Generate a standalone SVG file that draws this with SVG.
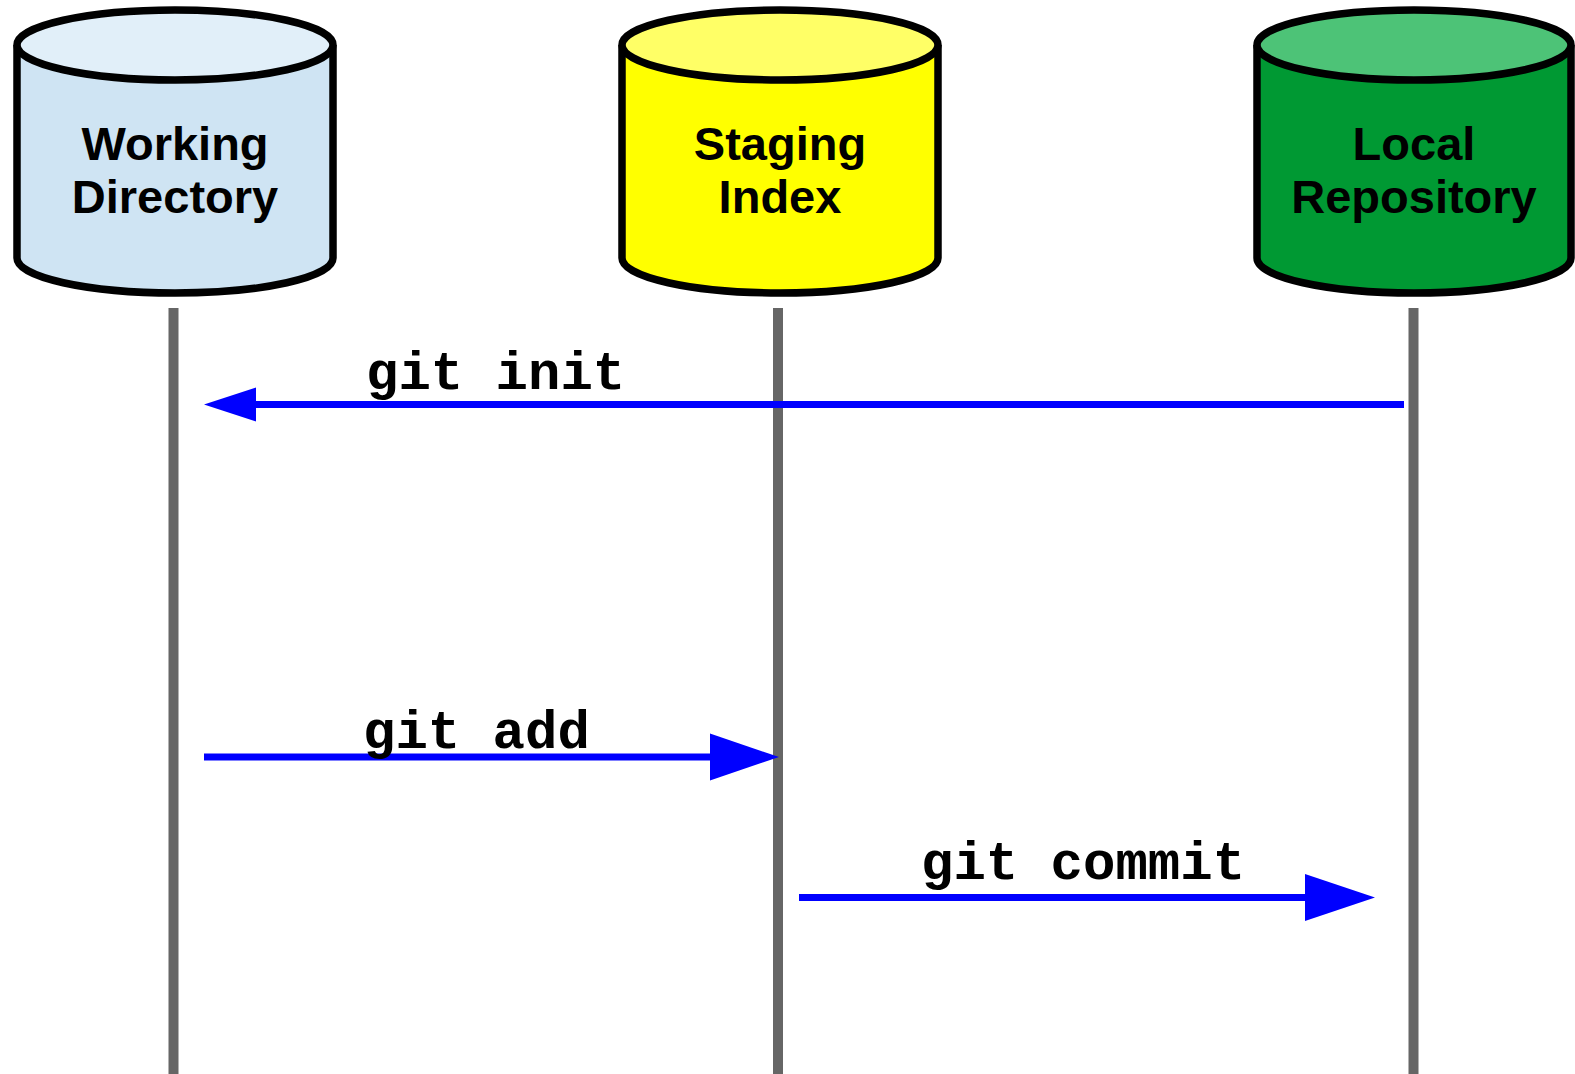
<svg xmlns="http://www.w3.org/2000/svg" width="1575" height="1074" viewBox="0 0 1575 1074">
<style>
.cyl{stroke:#000;stroke-width:7.5}
.lbl{font-family:"Liberation Sans",Arial,sans-serif;font-weight:bold;font-size:47px;fill:#000;text-anchor:middle}
.cmd{font-family:"Liberation Mono","Courier New",monospace;font-weight:bold;font-size:54px;fill:#000}
.life{stroke:#666;stroke-width:10;fill:none}
.msg{stroke:#00f;stroke-width:7;fill:none}
.head{fill:#00f;stroke:none}
</style>
<rect width="1575" height="1074" fill="#fff"/>
<g id="lifelines">
<line class="life" x1="173.5" y1="308" x2="173.5" y2="1074"/>
<line class="life" x1="778" y1="308" x2="778" y2="1074"/>
<line class="life" x1="1413.5" y1="308" x2="1413.5" y2="1074"/>
</g>
<g id="working-directory">
<path class="cyl" fill="#cfe4f3" d="M17,45 V258 A158,35 0 0 0 333,258 V45"/>
<ellipse class="cyl" fill="#e1eff9" cx="175" cy="45" rx="158" ry="35"/>
<text class="lbl" x="175" y="160">Working</text>
<text class="lbl" x="175" y="213">Directory</text>
</g>
<g id="staging-index">
<path class="cyl" fill="#ffff00" d="M622,45 V258 A158,35 0 0 0 938,258 V45"/>
<ellipse class="cyl" fill="#ffff66" cx="780" cy="45" rx="158" ry="35"/>
<text class="lbl" x="780" y="160">Staging</text>
<text class="lbl" x="780" y="213">Index</text>
</g>
<g id="local-repository">
<path class="cyl" fill="#009933" d="M1257,45 V258 A157,35 0 0 0 1571,258 V45"/>
<ellipse class="cyl" fill="#4dc377" cx="1414" cy="45" rx="157" ry="35"/>
<text class="lbl" x="1414" y="160">Local</text>
<text class="lbl" x="1414" y="213">Repository</text>
</g>
<g id="connectors">
<line class="msg" x1="1404" y1="404.5" x2="254" y2="404.5"/>
<polygon class="head" points="204,404.5 256,387.5 256,421.5"/>
<line class="msg" x1="204" y1="757" x2="712" y2="757"/>
<polygon class="head" points="779,757 710,733.5 710,780.5"/>
<line class="msg" x1="799" y1="897.5" x2="1307" y2="897.5"/>
<polygon class="head" points="1375,897.5 1305,874 1305,921"/>
<text class="cmd" x="366" y="389">git init</text>
<text class="cmd" x="363" y="748">git add</text>
<text class="cmd" x="921" y="879">git commit</text>
</g>
</svg>
